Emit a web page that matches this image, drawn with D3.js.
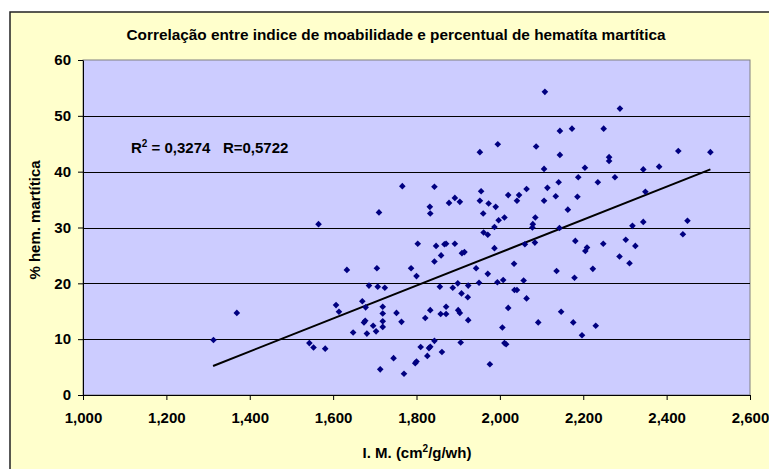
<!DOCTYPE html>
<html>
<head>
<meta charset="utf-8">
<script src="https://cdn.jsdelivr.net/npm/d3@7"></script>
<style>
  body { margin: 0; background: #fff; }
  text { font-family: "Liberation Sans", Arial, sans-serif; font-weight: bold; }
</style>
</head>
<body>
<svg id="chart" width="769" height="469"></svg>
<script>
// I.M. (cm2/g/wh) vs % hematita martitica
var imValues = [
  1369, 1313, 1543, 1565, 1710, 1766, 1843, 1832, 1833, 1878, 1892, 1904, 1952, 1995, 1955, 1952,
  1960, 1973, 1990, 2020, 2046, 2041, 2064, 1997, 2011, 1987, 1961, 1971, 1987, 2060, 1803, 1847,
  1859, 1867, 1871, 1892, 1909, 1915, 1843, 1633, 1705, 1787, 1800, 1943, 2034, 1971, 1950, 1994,
  2008, 2057, 1686, 1707, 1724, 1856, 1887, 1899, 1924, 1908, 1923, 2035, 2041, 2064, 1607, 1614,
  1670, 1678, 1719, 1719, 1719, 1719, 1674, 1677, 1696, 1703, 1681, 1648, 1752, 1764, 1833, 1821,
  1871, 1858, 1871, 1900, 1904, 1924, 2006, 2020, 1553, 1581, 1810, 1833, 1830, 1843, 1861, 1826,
  1906, 2011, 2015, 1745, 1797, 1800, 1713, 1770, 1976, 2108, 2288, 2144, 2173, 2249, 2087, 2144,
  2262, 2262, 2428, 2505, 2106, 2204, 2344, 2382, 2188, 2276, 2141, 2235, 2114, 2134, 2106, 2186,
  2349, 2163, 2085, 2079, 2078, 2143, 2318, 2344, 2450, 2084, 2181, 2248, 2302, 2325, 2439, 2205,
  2209, 2287, 2311, 2136, 2179, 2223, 2147, 2092, 2176, 2230, 2197
];
var hemValues = [
  14.7, 9.85, 9.3, 30.6, 32.7, 37.4, 37.3, 33.7, 32.5, 34.4, 35.3, 34.6, 43.5, 44.9, 36.5, 34.8,
  32.5, 34.3, 33.7, 35.8, 35.8, 34.8, 36.9, 31.3, 31.8, 30.1, 29.1, 28.7, 26.3, 27.0, 27.1, 26.7,
  25.0, 27.0, 27.1, 27.1, 25.4, 25.6, 23.9, 22.4, 22.7, 22.7, 21.3, 22.7, 23.5, 21.7, 20.1, 20.2,
  20.6, 20.5, 19.6, 19.4, 19.2, 19.4, 19.2, 20.0, 19.6, 18.2, 17.5, 18.8, 18.8, 17.3, 16.1, 14.9,
  16.8, 15.7, 15.8, 14.6, 13.2, 12.2, 13.0, 13.3, 12.4, 11.4, 11.0, 11.2, 14.7, 13.1, 15.2, 13.8,
  15.8, 14.5, 14.5, 15.2, 14.7, 13.4, 12.1, 15.6, 8.5, 8.3, 8.6, 8.65, 8.4, 9.7, 7.7, 7.0,
  9.4, 9.3, 9.1, 6.6, 5.7, 6.0, 4.6, 3.8, 5.5, 54.3, 51.3, 47.3, 47.7, 47.7, 44.5, 43.0,
  42.6, 41.9, 43.7, 43.5, 40.5, 40.7, 40.4, 40.9, 39.0, 39.0, 38.1, 38.1, 37.1, 35.6, 34.8, 35.5,
  36.4, 33.2, 31.8, 30.6, 30.0, 29.9, 30.3, 31.0, 31.2, 27.3, 27.6, 27.1, 27.8, 26.7, 28.8, 25.8,
  26.4, 24.8, 23.6, 22.2, 21.0, 22.6, 14.9, 13.0, 13.0, 12.4, 10.7
];
// linear trend line ends
var trendX = [1312, 2505];
var trendY = [5.2, 40.4];

var xTicks = [1000, 1200, 1400, 1600, 1800, 2000, 2200, 2400, 2600];
var yTicks = [0, 10, 20, 30, 40, 50, 60];

var svg = d3.select("#chart");

// chart area (cut off at right and bottom like the picture)
svg.append("rect")
  .attr("x", 10).attr("y", 12)
  .attr("width", 780).attr("height", 480)
  .attr("fill", "#ffffcc")
  .attr("stroke", "#222").attr("stroke-width", 1.5);

var x = d3.scaleLinear().domain([1000, 2600]).range([83, 750]);
var y = d3.scaleLinear().domain([0, 60]).range([395, 60]);

// plot area
svg.append("rect")
  .attr("x", x(1000)).attr("y", y(60))
  .attr("width", x(2600) - x(1000)).attr("height", y(0) - y(60))
  .attr("fill", "#ccccff")
  .attr("stroke", "#808080").attr("stroke-width", 1);

// gridlines
svg.append("g").selectAll("line")
  .data(yTicks.slice(1, -1))
  .enter().append("line")
    .attr("x1", x(1000)).attr("x2", x(2600))
    .attr("y1", function(d) { return Math.round(y(d)) + 0.5; })
    .attr("y2", function(d) { return Math.round(y(d)) + 0.5; })
    .attr("stroke", "#000").attr("stroke-width", 1);

var xAxis = svg.append("g")
  .attr("transform", "translate(0," + y(0) + ")")
  .call(d3.axisBottom(x).tickValues(xTicks).tickFormat(d3.format(",")).tickSize(5).tickSizeOuter(0));
var yAxis = svg.append("g")
  .attr("transform", "translate(" + x(1000) + ",0)")
  .call(d3.axisLeft(y).tickValues(yTicks).tickSize(5).tickSizeOuter(0));

[xAxis, yAxis].forEach(function(a) {
  a.select(".domain").attr("stroke", "#000");
  a.selectAll(".tick line").attr("stroke", "#000");
  a.selectAll(".tick text").attr("fill", "#000").style("font-size", "15px");
});
xAxis.selectAll(".tick text").attr("dy", "1.35em");
yAxis.selectAll(".tick text").attr("x", -12);

// trend line
svg.append("line")
  .attr("x1", x(trendX[0])).attr("y1", y(trendY[0]))
  .attr("x2", x(trendX[1])).attr("y2", y(trendY[1]))
  .attr("stroke", "#000").attr("stroke-width", 2);

// points
var pts = imValues.map(function(v, i) { return {im: v, hem: hemValues[i]}; });
svg.append("g").selectAll("path")
  .data(pts)
  .enter().append("path")
    .attr("d", d3.symbol(d3.symbolSquare, 22))
    .attr("transform", function(d) { return "translate(" + x(d.im) + "," + y(d.hem) + ") rotate(45)"; })
    .attr("fill", "#000080");

// titles
svg.append("text")
  .attr("x", 396).attr("y", 40)
  .attr("text-anchor", "middle")
  .attr("textLength", 539).attr("lengthAdjust", "spacingAndGlyphs")
  .style("font-size", "15px")
  .text("Correlação entre indice de moabilidade e percentual de hematíta martítica");

var xt = svg.append("text")
  .attr("x", 417).attr("y", 458)
  .attr("text-anchor", "middle")
  .style("font-size", "15px");
xt.append("tspan").text("I. M. (cm");
xt.append("tspan").attr("dy", -6).style("font-size", "10px").text("2");
xt.append("tspan").attr("dy", 6).text("/g/wh)");

svg.append("text")
  .attr("transform", "translate(40,220) rotate(-90)")
  .attr("text-anchor", "middle")
  .style("font-size", "15px")
  .text("% hem. martítica");

var ann = svg.append("text")
  .attr("x", 131).attr("y", 153)
  .attr("xml:space", "preserve")
  .style("font-size", "15px");
ann.append("tspan").text("R");
ann.append("tspan").attr("dy", -6).style("font-size", "10px").text("2");
ann.append("tspan").attr("dy", 6).text(" = 0,3274   R=0,5722");
</script>
</body>
</html>
